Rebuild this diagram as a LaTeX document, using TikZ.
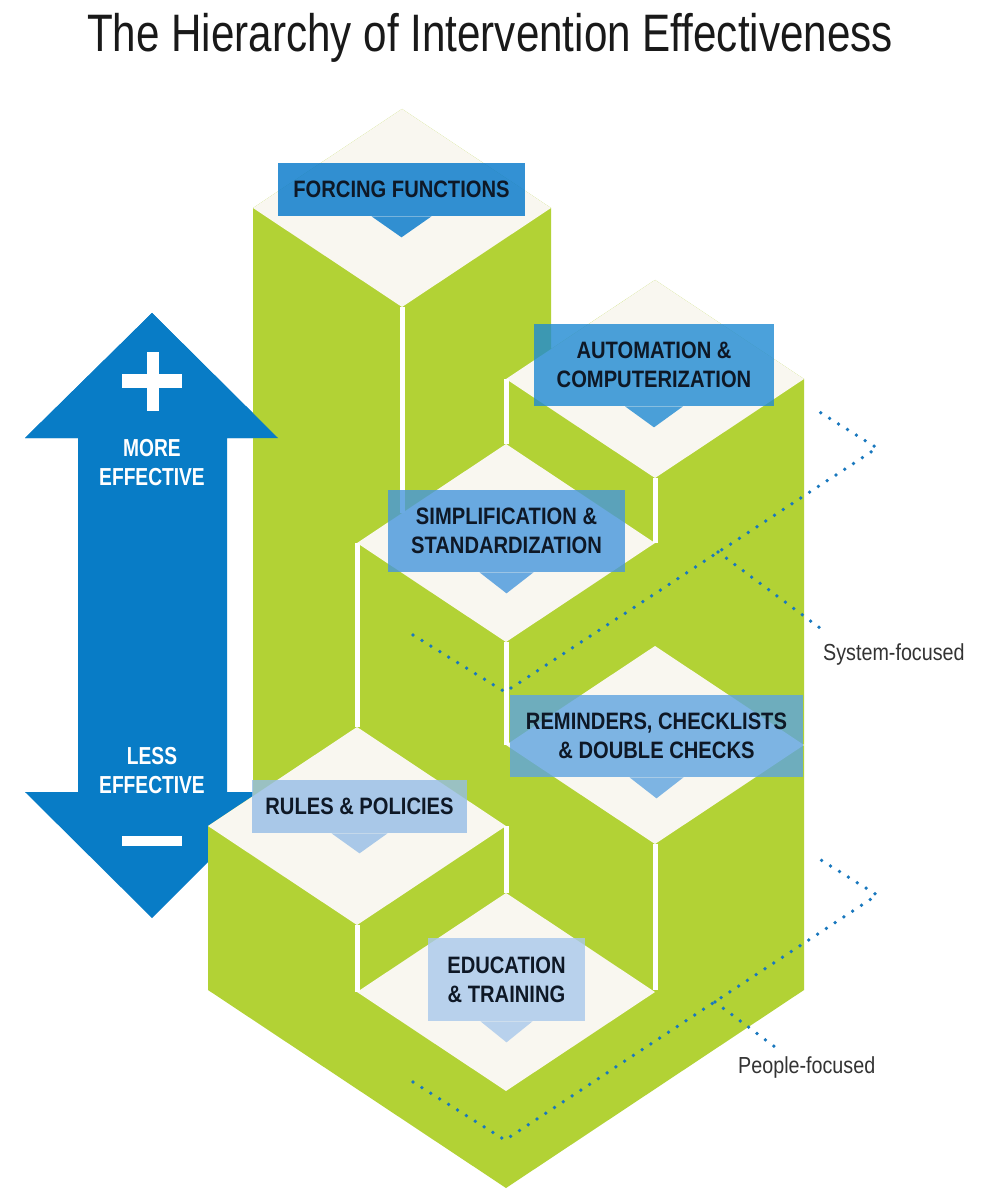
\documentclass[tikz,border=0pt]{standalone}
\usepackage{fontspec}
\setmainfont{Liberation Sans}
\newfontfamily\narrowfont{Liberation Sans}[FakeStretch=0.85]
\newfontfamily\arrowfont{Liberation Sans}[FakeStretch=0.78]
\newfontfamily\titlefont{Liberation Sans}[FakeStretch=0.8]
\usetikzlibrary{positioning}

\definecolor{stepgreen}{RGB}{178,210,53}
\definecolor{facecream}{RGB}{249,247,240}
\definecolor{arrowblue}{RGB}{8,124,198}
\definecolor{dotblue}{RGB}{25,120,190}
\definecolor{labeltext}{RGB}{14,24,38}
\definecolor{tagA}{RGB}{0,118,202}
\definecolor{tagB}{RGB}{31,138,210}
\definecolor{tagC}{RGB}{70,150,220}
\definecolor{tagD}{RGB}{94,164,224}
\definecolor{tagE}{RGB}{149,189,230}
\definecolor{tagF}{RGB}{168,200,235}

\begin{document}
\begin{tikzpicture}[x=0.2mm,y=-0.2mm]
		\tikzset{face/.style = {fill=facecream}}
		\tikzset{gap/.style = {draw=white, line width=1mm}}
		\tikzset{tag/.style = {inner sep=0pt, align=center, fill opacity=0.8, text opacity=1, text=labeltext, font=\narrowfont\bfseries\fontsize{13.5}{16.4}\selectfont}}
		\tikzset{dots/.style = {dotblue, line width=0.75mm, line cap=round, dash pattern=on 0pt off 2.1mm}}
		\tikzset{side/.style = {text=black!80, font=\narrowfont\fontsize{13.2}{15}\selectfont}}

		\fill[white] (0,0) rectangle (989,1200);

		\node[font=\titlefont\fontsize{30}{36}\selectfont, text=black!90, anchor=base] (title) at (490,52) {The Hierarchy of Intervention Effectiveness};

		% double arrow, behind the blocks
		\fill[arrowblue] (152,313) -- (278,438) -- (227,438) -- (227,792) -- (278,792) -- (152,918)
			-- (25,792) -- (78,792) -- (78,438) -- (25,438) -- cycle;

		% green blocks
		\fill[stepgreen] (402,109) -- (551,208) -- (551,349) -- (655,280) -- (804,379) -- (804,990)
			-- (506,1188) -- (208,990) -- (208,826) -- (253,796) -- (253,208) -- cycle;

		% top faces
		\fill[face] (402,109) -- (551,208) -- (402,307) -- (253,208) -- cycle;
		\fill[face] (655,280) -- (804,379) -- (655,478) -- (506,379) -- cycle;
		\fill[face] (506,444) -- (655,543) -- (506,642) -- (357,543) -- cycle;
		\fill[face] (655,646) -- (804,745) -- (655,844) -- (506,745) -- cycle;
		\fill[face] (357,727) -- (506,826) -- (357,925) -- (208,826) -- cycle;
		\fill[face] (506,893) -- (655,992) -- (506,1091) -- (357,992) -- cycle;

		% gaps between the columns
		\draw[gap] (402,307) -- (402,513);
		\draw[gap] (506,379) -- (506,444);
		\draw[gap] (655,478) -- (655,543);
		\draw[gap] (357,543) -- (357,727);
		\draw[gap] (506,642) -- (506,745);
		\draw[gap] (655,844) -- (655,990);
		\draw[gap] (357,925) -- (357,992);
		\draw[gap] (506,826) -- (506,893);

		% arrow head in front of the tall column
		\fill[arrowblue] (152,313) -- (278,438) -- (25,438) -- cycle;
		\fill[white] (122,374) rectangle (182,388);
		\fill[white] (147,352) rectangle (159,411);
		\fill[white] (122,836) rectangle (182,846);
		\node[text=white, align=center, font=\arrowfont\bfseries\fontsize{14}{16.5}\selectfont] (more) at (152,463) {MORE\\EFFECTIVE};
		\node[text=white, align=center, font=\arrowfont\bfseries\fontsize{14}{16.5}\selectfont] (less) at (152,771) {LESS\\EFFECTIVE};

		% labels
		\node[tag, fill=tagA, minimum width=49.4mm, minimum height=10.6mm] (ff) at (401.5,189.5) {FORCING FUNCTIONS};
		\fill[tagA, fill opacity=0.8] (ff.south) ++(-30,0) -- ++(30,21) -- ++(30,-21) -- cycle;
		\node[tag, fill=tagB, minimum width=48mm, minimum height=16.4mm] (ac) at (654,365) {AUTOMATION \&\\COMPUTERIZATION};
		\fill[tagB, fill opacity=0.8] (ac.south) ++(-29,0) -- ++(29,21) -- ++(29,-21) -- cycle;
		\node[tag, fill=tagC, minimum width=47.4mm, minimum height=16.4mm] (ss) at (506.5,531) {SIMPLIFICATION \&\\STANDARDIZATION};
		\fill[tagC, fill opacity=0.8] (ss.south) ++(-27,0) -- ++(27,21) -- ++(27,-21) -- cycle;
		\node[tag, fill=tagD, minimum width=58.6mm, minimum height=16.4mm] (rc) at (656.5,736) {REMINDERS, CHECKLISTS\\\& DOUBLE CHECKS};
		\fill[tagD, fill opacity=0.8] (rc.south) ++(-27,0) -- ++(27,21) -- ++(27,-21) -- cycle;
		\node[tag, fill=tagE, minimum width=43mm, minimum height=10.6mm] (rp) at (359.5,806.5) {RULES \& POLICIES};
		\fill[tagE, fill opacity=0.8] (rp.south) ++(-28,0) -- ++(28,20) -- ++(28,-20) -- cycle;
		\node[tag, fill=tagF, minimum width=31.4mm, minimum height=16.6mm] (et) at (506.5,979.5) {EDUCATION\\\& TRAINING};
		\fill[tagF, fill opacity=0.8] (et.south) ++(-26,0) -- ++(26,21) -- ++(26,-21) -- cycle;

		% brackets
		\node[side, anchor=base west] (sys) at (817,660) {System-focused};
		\node[side, anchor=base west] (ppl) at (732,1073) {People-focused};

		\coordinate (s1) at (413,635);
		\coordinate (s2) at (505,692);
		\coordinate (s3) at (877,448);
		\coordinate (s4) at (813,408);
		\coordinate (sb) at (718,552);
		\coordinate (sl) at (820,628);
		\draw[dots] (s1) -- (s2) -- (s3) -- (s4);
		\draw[dots] (sb) -- (sl);

		\coordinate (p1) at (413,1082);
		\coordinate (p2) at (505,1140);
		\coordinate (p3) at (877,895);
		\coordinate (p4) at (813,855);
		\coordinate (pb) at (715,1002);
		\coordinate (pl) at (775,1047);
		\draw[dots] (p1) -- (p2) -- (p3) -- (p4);
		\draw[dots] (pb) -- (pl);

	\end{tikzpicture}
\end{document}
